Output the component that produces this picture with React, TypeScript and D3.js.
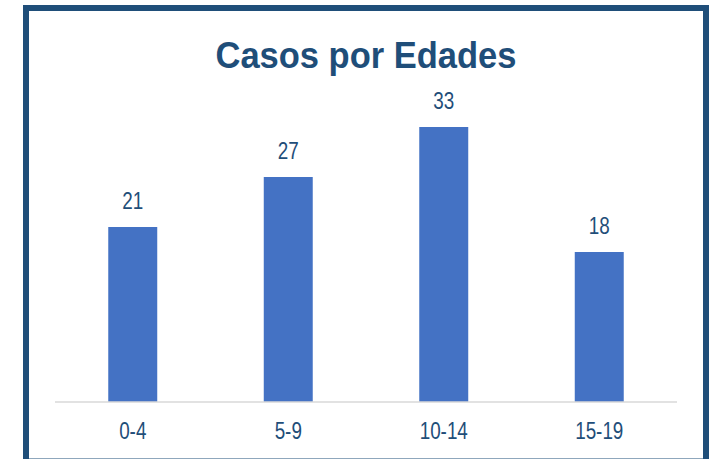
import React from 'react';
import * as d3 from 'd3';

const categories = ['0-4', '5-9', '10-14', '15-19'];
const cases = [21, 27, 33, 18];
const title = 'Casos por Edades';

const W = 715;
const H = 459;
const navy = '#1f4e79';
const barColor = '#4472c4';
const sans = '"Liberation Sans", Arial, sans-serif';
// no narrow face installed, so squeeze the regular one
const squeeze = 0.82;

export default function App() {
  const x = d3.scaleBand<string>()
    .domain(categories)
    .range([55, 677])
    .padding(0);

  const y = d3.scaleLinear()
    .domain([0, 36])
    .range([402, 102]);

  const barW = x.bandwidth() * 0.315;

  const label = (tx: number, ty: number, s: string | number) => (
    <text
      transform={`translate(${tx},${ty}) scale(${squeeze},1)`}
      textAnchor="middle"
      fontFamily={sans}
      fontSize={23}
      fill={navy}
    >
      {s}
    </text>
  );

  return (
    <svg width={W} height={H} style={{ position: 'absolute', left: 0, top: 0, background: '#fff' }}>
      <rect x={26} y={8} width={680} height={453.5} fill="#fff" stroke={navy} strokeWidth={6} />

      <text
        x={366}
        y={67.5}
        textAnchor="middle"
        fontFamily={sans}
        fontWeight="bold"
        fontSize={37}
        fill={navy}
        textLength={301}
        lengthAdjust="spacingAndGlyphs"
      >
        {title}
      </text>

      {categories.map((c, i) => {
        const cx = (x(c) ?? 0) + x.bandwidth() / 2;
        return (
          <g key={c}>
            <rect x={cx - barW / 2} y={y(cases[i])} width={barW} height={y(0) - y(cases[i])} fill={barColor} />
            {label(cx, y(cases[i]) - 18, cases[i])}
            {label(cx, 438.5, c)}
          </g>
        );
      })}

      <line x1={55} x2={677} y1={y(0)} y2={y(0)} stroke="#d9d9d9" strokeWidth={1.5} />
    </svg>
  );
}
